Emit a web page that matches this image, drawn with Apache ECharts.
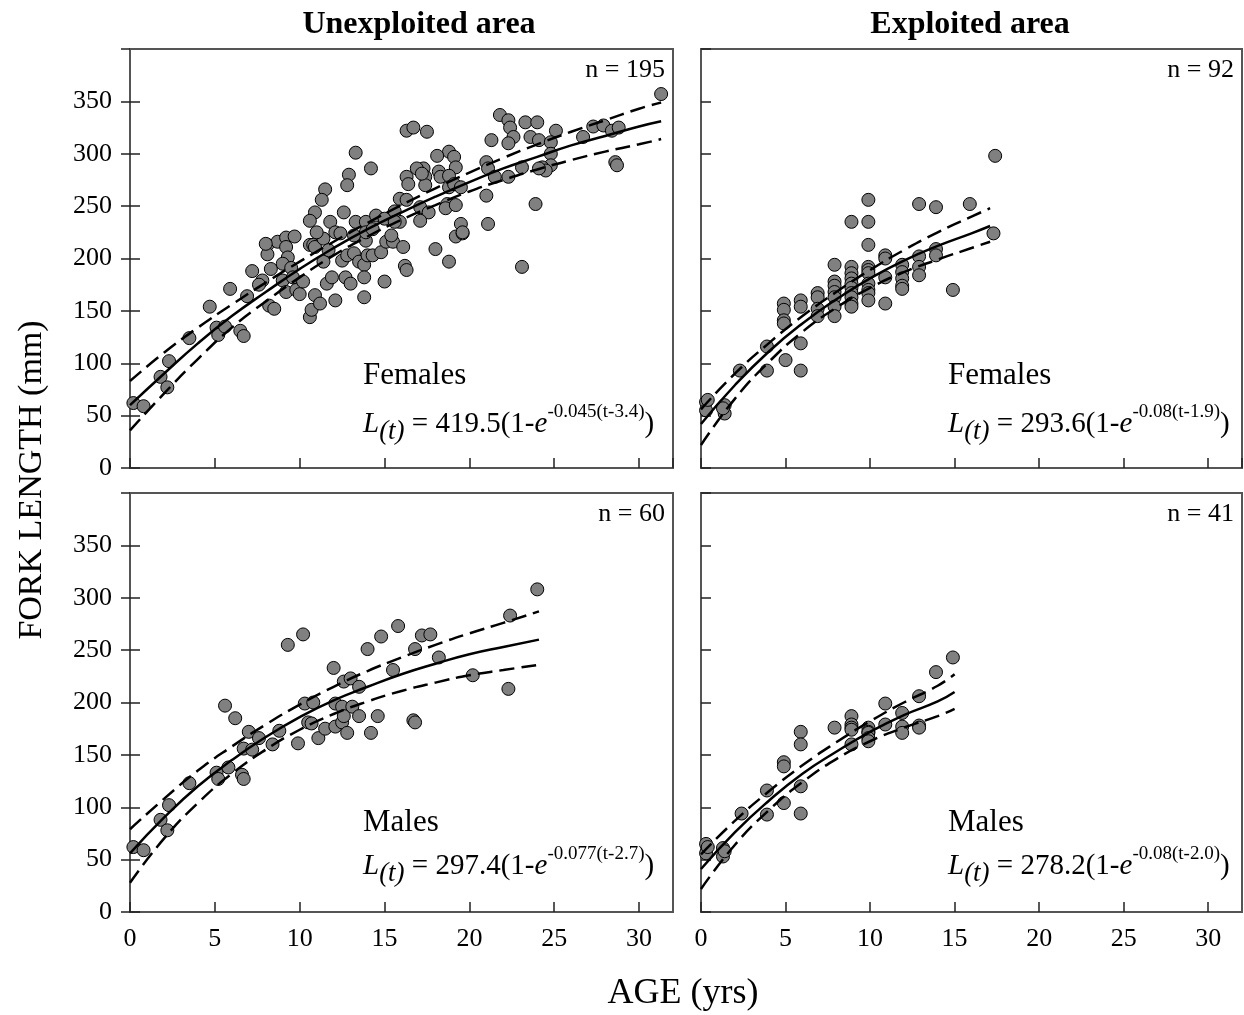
<!DOCTYPE html>
<html>
<head>
<meta charset="utf-8">
<title>Fork length at age</title>
<script src="https://cdn.jsdelivr.net/npm/echarts@6/dist/echarts.min.js"></script>
<style>
  html, body { margin: 0; padding: 0; background: #fff; }
  #chart { width: 1244px; height: 1015px; }
</style>
</head>
<body>
<div id="chart"></div>
<script>
// scatter points: [age (yrs), fork length (mm)]
const unexFemales = [
  [0.2,62],[0.8,59],[1.8,87],[2.3,102],[2.2,77],[3.5,124],[4.7,154],[5.1,134],[5.2,127],[5.6,135],
  [5.9,171],[6.5,131],[6.7,126],[6.9,164],[7.2,188],[7.8,179],[7.6,175],[8.1,213],[8.1,204],[8.3,190],
  [8.2,155],[8.5,152],[8.7,216],[9.2,220],[9.2,211],[9.3,201],[9.0,195],[9.5,191],[9.0,179],[9.6,182],
  [9.7,221],[9.2,168],[9.8,170],[10.0,166],[10.2,178],[10.6,213],[10.8,213],[10.9,211],[10.6,144],[10.7,151],
  [10.9,165],[11.2,157],[11.4,219],[11.4,197],[11.7,208],[11.6,176],[11.9,182],[12.1,160],[12.5,198],[12.8,203],
  [13.2,205],[12.7,182],[13.0,176],[13.5,197],[13.8,194],[13.8,182],[13.8,163],[14.0,203],[14.3,203],[14.8,206],
  [15.0,178],[15.1,216],[15.5,216],[16.1,211],[16.2,193],[16.3,189],[18.0,209],[18.8,197],[19.2,221],[19.6,224],
  [23.1,192],[16.3,322],[16.7,325],[17.5,321],[21.8,337],[22.3,332],[22.4,325],[22.6,316],[22.3,310],[21.3,313],
  [23.3,330],[24.0,330],[23.6,316],[24.1,313],[25.1,322],[24.8,311],[24.8,300],[24.8,289],[24.3,287],[24.5,284],
  [24.1,286],[23.1,287],[26.7,316],[27.3,326],[27.9,327],[28.4,322],[28.8,325],[28.6,292],[28.7,289],[31.3,357],
  [21.0,292],[21.1,286],[21.5,278],[22.3,278],[18.8,302],[19.1,297],[19.2,287],[18.1,298],[16.3,278],[16.4,271],
  [17.3,286],[17.4,278],[17.4,270],[16.9,286],[17.2,281],[18.2,283],[18.3,278],[18.8,279],[18.8,268],[19.1,271],
  [19.5,268],[15.9,257],[16.3,256],[17.1,249],[17.6,244],[17.1,236],[18.7,252],[18.6,248],[19.2,251],[19.5,233],
  [19.6,225],[21.0,260],[21.1,233],[23.9,252],[15.9,235],[13.3,301],[14.2,286],[12.9,280],[12.8,270],[11.5,266],
  [11.3,256],[10.9,244],[10.6,236],[11.8,235],[12.6,244],[13.3,235],[13.9,235],[14.5,241],[15.0,238],[15.6,245],
  [15.6,235],[11.0,225],[12.1,225],[12.4,224],[13.2,222],[13.9,217],[13.9,225],[14.3,228],[15.4,222],[8.0,214]
];
const exFemales = [
  [0.3,63],[0.3,55],[0.4,65],[1.4,60],[1.4,52],[1.3,57],[2.3,93],[3.9,116],[3.9,93],[4.9,157],
  [4.9,151],[4.9,141],[4.9,138],[5.0,103],[5.9,160],[5.9,154],[5.9,119],[5.9,93],[6.9,167],[6.9,163],
  [6.9,152],[6.9,145],[7.9,194],[7.9,178],[7.9,174],[7.9,168],[7.9,163],[7.9,154],[7.9,145],[8.9,235],
  [8.9,192],[8.9,186],[8.9,181],[8.9,176],[8.9,172],[8.9,167],[8.9,163],[8.9,157],[8.9,154],[9.9,256],
  [9.9,235],[9.9,213],[9.9,192],[9.9,189],[9.9,186],[9.9,176],[9.9,170],[9.9,167],[9.9,160],[10.9,203],
  [10.9,200],[10.9,182],[10.9,157],[11.9,194],[11.9,187],[11.9,181],[11.9,174],[11.9,171],[12.9,252],[12.9,202],
  [12.9,192],[12.9,184],[13.9,249],[13.9,209],[13.9,203],[14.9,170],[15.9,252],[17.4,298],[17.3,224]
];
const unexMales = [
  [0.2,62],[0.8,59],[1.8,88],[2.3,102],[2.2,78],[3.5,123],[5.1,133],[5.2,127],[5.6,197],[5.8,138],
  [6.2,185],[6.6,131],[6.7,127],[7.0,172],[6.7,156],[7.2,155],[7.6,166],[8.4,160],[8.8,173],[9.3,255],
  [9.9,161],[10.2,265],[10.3,199],[10.8,200],[10.5,181],[10.7,180],[11.1,166],[11.5,175],[12.0,233],[12.1,177],
  [12.1,199],[12.5,196],[13.1,196],[12.6,220],[13.0,223],[12.5,181],[12.6,187],[12.8,171],[13.5,187],[13.5,215],
  [14.0,251],[14.2,171],[14.6,187],[14.8,263],[15.5,231],[15.8,273],[17.2,264],[17.7,265],[16.8,251],[18.2,243],
  [20.2,226],[22.3,213],[22.4,283],[24.0,308],[16.7,183],[16.8,181]
];
const exMales = [
  [0.3,65],[0.3,56],[0.4,62],[1.3,61],[1.3,53],[1.4,58],[2.4,94],[3.9,116],[3.9,93],[4.9,143],
  [4.9,139],[4.9,104],[5.9,172],[5.9,160],[5.9,120],[5.9,94],[7.9,176],[8.9,187],[8.9,179],[8.9,176],
  [8.9,174],[8.9,160],[9.9,176],[9.9,172],[9.9,171],[9.9,166],[9.9,163],[10.9,199],[10.9,179],[11.9,190],
  [11.9,177],[11.9,171],[12.9,206],[12.9,178],[12.9,176],[13.9,229],[14.9,243]
];

// growth curve (solid) and its dashed bands, read along the age axis
const unexFemalesAge = [0, 2, 4, 6, 8, 10, 12, 14, 16, 18, 20, 22, 24, 26, 28, 30, 31.3];
const unexFemalesFit = [60, 90, 119, 145, 168, 190, 210, 228, 244, 259, 273, 286, 297, 308, 317, 326, 331];
const unexFemalesUp = [83, 110, 134, 156, 177, 197, 216, 234, 251, 267, 282, 296, 309, 321, 332, 343, 349];
const unexFemalesLo = [36, 71, 104, 134, 159, 182, 203, 221, 237, 251, 264, 275, 285, 294, 302, 309, 314];

const exFemalesAge = [0, 2, 4, 6, 8, 10, 12, 14, 16, 17.1];
const exFemalesFit = [42, 79, 111, 138, 161, 181, 198, 212, 224, 231];
const exFemalesUp = [56, 90, 119, 145, 168, 189, 208, 225, 240, 248];
const exFemalesLo = [22, 66, 101, 130, 153, 172, 187, 199, 210, 216];

const unexMalesAge = [0, 2, 4, 6, 8, 10, 12, 14, 16, 18, 20, 22, 24.1];
const unexMalesFit = [56, 90, 120, 145, 167, 186, 202, 215, 227, 237, 246, 253, 260];
const unexMalesUp = [79, 108, 135, 158, 179, 198, 215, 230, 243, 255, 266, 276, 287];
const unexMalesLo = [28, 70, 104, 132, 155, 174, 189, 201, 211, 219, 226, 231, 236];

const exMalesAge = [0, 2, 4, 6, 8, 10, 12, 14, 15];
const exMalesFit = [41, 76, 106, 132, 153, 172, 188, 201, 210];
const exMalesUp = [55, 87, 115, 140, 162, 182, 200, 216, 227];
const exMalesLo = [22, 64, 97, 124, 146, 163, 176, 187, 194];

const sampleSizes = ["n = 195", "n = 92", "n = 60", "n = 41"];
const sexLabels = ["Females", "Females", "Males", "Males"];
const equations = [
  ["419.5", "-0.045(t-3.4)"],
  ["293.6", "-0.08(t-1.9)"],
  ["297.4", "-0.077(t-2.7)"],
  ["278.2", "-0.08(t-2.0)"]
];

const FONT = "Liberation Serif, Times New Roman, serif";

function pairs(ages, vals) {
  return ages.map((a, i) => [a, vals[i]]);
}

const panels = [
  { left: 130, top: 49, pts: unexFemales, age: unexFemalesAge, fit: unexFemalesFit, up: unexFemalesUp, lo: unexFemalesLo, xLab: false, yLab: true },
  { left: 701, top: 49, pts: exFemales, age: exFemalesAge, fit: exFemalesFit, up: exFemalesUp, lo: exFemalesLo, xLab: false, yLab: false },
  { left: 130, top: 493, pts: unexMales, age: unexMalesAge, fit: unexMalesFit, up: unexMalesUp, lo: unexMalesLo, xLab: true, yLab: true },
  { left: 701, top: 493, pts: exMales, age: exMalesAge, fit: exMalesFit, up: exMalesUp, lo: exMalesLo, xLab: true, yLab: false }
];
const panelW = [543, 541, 543, 541];
const panelH = 419;

const grid = [], xAxis = [], yAxis = [], series = [], graphic = [];

panels.forEach((p, i) => {
  grid.push({
    left: p.left, top: p.top, width: panelW[i], height: panelH,
    show: true, borderColor: "#555", borderWidth: 2, backgroundColor: "transparent"
  });
  xAxis.push({
    gridIndex: i, type: "value", min: 0, max: 32, interval: 5,
    axisLine: { show: false }, splitLine: { show: false },
    axisTick: { inside: true, length: 10, lineStyle: { color: "#222", width: 1.5 } },
    axisLabel: {
      show: p.xLab, margin: 14, fontSize: 26, fontFamily: FONT, color: "#000",
      showMaxLabel: false
    }
  });
  yAxis.push({
    gridIndex: i, type: "value", min: 0, max: 400, interval: 50,
    axisLine: { show: false }, splitLine: { show: false },
    axisTick: { inside: true, length: 10, lineStyle: { color: "#222", width: 1.5 } },
    axisLabel: {
      show: p.yLab, margin: 18, fontSize: 26, fontFamily: FONT, color: "#000",
      showMaxLabel: false
    }
  });

  series.push({
    type: "scatter", xAxisIndex: i, yAxisIndex: i, data: p.pts,
    symbol: "circle", symbolSize: 13, z: 2,
    itemStyle: { color: "#808080", borderColor: "#000", borderWidth: 1, opacity: 1 }
  });
  series.push({
    type: "line", xAxisIndex: i, yAxisIndex: i, data: pairs(p.age, p.fit),
    smooth: true, showSymbol: false, z: 4,
    lineStyle: { color: "#000", width: 2.5 }
  });
  [p.up, p.lo].forEach(band => {
    series.push({
      type: "line", xAxisIndex: i, yAxisIndex: i, data: pairs(p.age, band),
      smooth: true, showSymbol: false, z: 3,
      lineStyle: { color: "#000", width: 2.5, type: [15, 7] }
    });
  });

  // panel annotations
  const right = p.left + panelW[i];
  graphic.push({
    type: "text", x: right - 8, y: p.top + 21,
    style: { text: sampleSizes[i], font: "26px " + FONT, fill: "#000", textAlign: "right", textVerticalAlign: "middle" }
  });
  const tx = p.left + (i % 2 === 0 ? 233 : 247);
  const sexY = i < 2 ? 376 : 823;
  const eqY = i < 2 ? 424 : 866;
  graphic.push({
    type: "text", x: tx, y: sexY,
    style: { text: sexLabels[i], font: "31px " + FONT, fill: "#000", textAlign: "left", textVerticalAlign: "middle" }
  });
  graphic.push({
    type: "text", x: tx, y: eqY,
    style: {
      text: "{i|L}{sub|(t)}{r| = " + equations[i][0] + "(1-}{i|e}{sup|" + equations[i][1] + "}{r|)}",
      textAlign: "left", textVerticalAlign: "middle", fill: "#000",
      rich: {
        i: { fontFamily: FONT, fontStyle: "italic", fontSize: 29, lineHeight: 42, fill: "#000" },
        r: { fontFamily: FONT, fontSize: 29, lineHeight: 42, fill: "#000" },
        sub: { fontFamily: FONT, fontStyle: "italic", fontSize: 27, verticalAlign: "bottom", fill: "#000" },
        sup: { fontFamily: FONT, fontSize: 19, verticalAlign: "top", fill: "#000" }
      }
    }
  });
});

// outer half of the crossing ticks on the left panels
[0, 2].forEach(i => {
  yAxis.push({
    gridIndex: i, type: "value", min: 0, max: 400, interval: 50, position: "left",
    axisLine: { show: false }, splitLine: { show: false }, axisLabel: { show: false },
    axisTick: { inside: false, length: 9, lineStyle: { color: "#222", width: 1.5 } }
  });
});

graphic.push(
  { type: "text", x: 419, y: 25, style: { text: "Unexploited area", font: "bold 32px " + FONT, fill: "#000", textAlign: "center", textVerticalAlign: "middle" } },
  { type: "text", x: 970, y: 25, style: { text: "Exploited area", font: "bold 32px " + FONT, fill: "#000", textAlign: "center", textVerticalAlign: "middle" } },
  { type: "text", x: 683, y: 994, style: { text: "AGE (yrs)", font: "36px " + FONT, fill: "#000", textAlign: "center", textVerticalAlign: "middle" } },
  { type: "text", x: 32, y: 480, rotation: Math.PI / 2, style: { text: "FORK LENGTH (mm)", font: "34px " + FONT, fill: "#000", textAlign: "center", textVerticalAlign: "middle" } }
);

const chart = echarts.init(document.getElementById("chart"));
chart.setOption({
  animation: false,
  backgroundColor: "#fff",
  grid: grid,
  xAxis: xAxis,
  yAxis: yAxis,
  series: series,
  graphic: graphic
});
</script>
</body>
</html>
